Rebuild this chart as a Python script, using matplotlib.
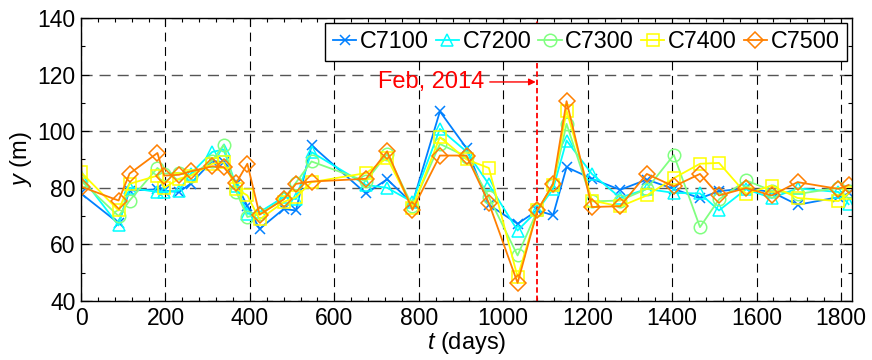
import matplotlib
matplotlib.use("Agg")
import matplotlib.pyplot as plt
from matplotlib.ticker import MultipleLocator

plt.rcParams['font.family'] = ['Liberation Sans', 'DejaVu Sans']
plt.rcParams['mathtext.fontset'] = 'custom'
plt.rcParams['mathtext.it'] = 'Liberation Sans:italic'
plt.rcParams['mathtext.rm'] = 'Liberation Sans'

# Survey epochs (days since start of monitoring)
days = [0, 89, 115, 181, 197, 232, 260, 311, 338, 368, 394, 423, 480, 509, 546,
        675, 725, 785, 850, 913, 966, 1034, 1081, 1118, 1150, 1210, 1277, 1340,
        1404, 1466, 1511, 1575, 1636, 1697, 1794, 1818]
# C7500 record begins a few days before the plotted window
c7500_days = [-3, 2] + days[1:]

c7100 = [78, 67.5, 79, 79.5, 79, 78.5, 81.5, 89.5, 89, 81.5, 73.5, 65.5, 72.5, 72, 95,
         78, 83, 74.5, 107, 94, 74, 67.3, 72, 70.3, 87.3, 83.2, 79.3, 82.9,
         79.6, 76.3, 78.8, 79.8, 78.5, 74, 76.7, 78]
c7200 = [84, 66.7, 80, 78.5, 78.5, 79, 85, 92.7, 93.5, 80.5, 70.8, 71.4, 76.7, 76, 92.6,
         81, 80, 75, 100.8, 92.8, 81.2, 64.9, 72, 79.6, 96.7, 84.9, 76.5, 79.6,
         78.2, 78, 72, 79.5, 76.4, 79.8, 78.5, 74.2]
c7300 = [82.5, 70, 75.5, 87, 85, 85.3, 84.3, 89.6, 95.2, 78.5, 69.7, 70.7, 76, 81.8, 89.3,
         82.3, 92, 73.5, 95.5, 91, 76.7, 56.1, 72, 81, 102.6, 75.2, 75.5, 79.6,
         91.6, 66.1, 75.9, 82.6, 79, 77.8, 80, 79]
c7400 = [85.5, 72, 81.4, 84.3, 80, 83.2, 84.3, 88.5, 89, 79.6, 77.3, 68.8, 75, 76.7, 82,
         85.2, 90.5, 73, 97.9, 90, 87, 48.5, 72, 81, 107.3, 75.5, 73.4, 77.3,
         83.4, 88.5, 88.8, 77.9, 80.8, 76.4, 75.3, 78]
c7500 = [112, 80.3, 75.5, 85, 92.3, 84.3, 84.6, 85.8, 87.6, 87.3, 81.8, 88.5, 70.5, 75.9, 81.4, 82.2,
         83.2, 92.9, 72.2, 91.4, 91.4, 74.6, 46.4, 72, 81.4, 110.6, 73.2, 73.5, 84.9,
         80.5, 84.9, 77.3, 79.9, 77.3, 82, 79.6, 81]

labels = ['C7100', 'C7200', 'C7300', 'C7400', 'C7500']
colors = ['#0080ff', '#00ffff', '#80ff80', '#ffff00', '#ff8000']
markers = ['x', '^', 'o', 's', 'D']
msizes = [7, 9, 9, 8, 8]

event_day = 1080
event_label = 'Feb, 2014'

fig = plt.figure(figsize=(8.72, 3.6), dpi=100)
ax = fig.add_axes([81 / 872, 59 / 360, 771 / 872, 283 / 360])

series = [(days, c7100), (days, c7200), (days, c7300), (days, c7400), (c7500_days, c7500)]
for (d, v), lab, col, mk, ms in zip(series, labels, colors, markers, msizes):
    # only mark epochs that fall inside the plotted window
    shown = [i for i, t in enumerate(d) if t >= 0]
    ax.plot(d, v, color=col, marker=mk, markersize=ms, markerfacecolor='none',
            markeredgecolor=col, markeredgewidth=1.1, linewidth=1.3, label=lab,
            markevery=shown)

ax.set_xlim(0, 1826)
ax.set_ylim(40, 140)
ax.xaxis.set_major_locator(MultipleLocator(200))
ax.xaxis.set_minor_locator(MultipleLocator(40))
ax.yaxis.set_major_locator(MultipleLocator(20))
ax.yaxis.set_minor_locator(MultipleLocator(10))
ax.tick_params(which='both', direction='in', top=True, right=True, width=0.8)
ax.tick_params(which='major', length=6, labelsize=16.5, pad=4)
ax.tick_params(which='minor', length=3)

ax.xaxis.grid(True, which='major', color='black', linestyle=(0, (8, 5)), linewidth=0.8)
ax.yaxis.grid(True, which='major', color='#555555', linestyle=(0, (8, 5)), linewidth=1.0)
ax.set_axisbelow(True)
for s in ax.spines.values():
    s.set_linewidth(1.0)

ax.axvline(event_day, color='red', linestyle=(0, (3, 1.6)), linewidth=1.3, zorder=1.5)
ax.annotate(event_label, xy=(event_day - 3, 117.4), xytext=(955, 117.4),
            color='red', fontsize=17, ha='right', va='center',
            arrowprops=dict(arrowstyle='-|>', color='red', lw=1.0,
                            mutation_scale=10, shrinkA=2, shrinkB=0))

ax.set_xlabel(r'$t$ (days)', fontsize=17, labelpad=0)
ax.set_ylabel(r'$y$ (m)', fontsize=17, labelpad=2)

leg = ax.legend(loc='upper right', ncol=5, fontsize=16.8, frameon=True, fancybox=False,
                framealpha=1, edgecolor='black', handlelength=1.0, handletextpad=0.15,
                columnspacing=0.3, borderpad=0.33, borderaxespad=0.2)
leg.get_frame().set_linewidth(1.0)

fig.savefig('out.png', dpi=100)
